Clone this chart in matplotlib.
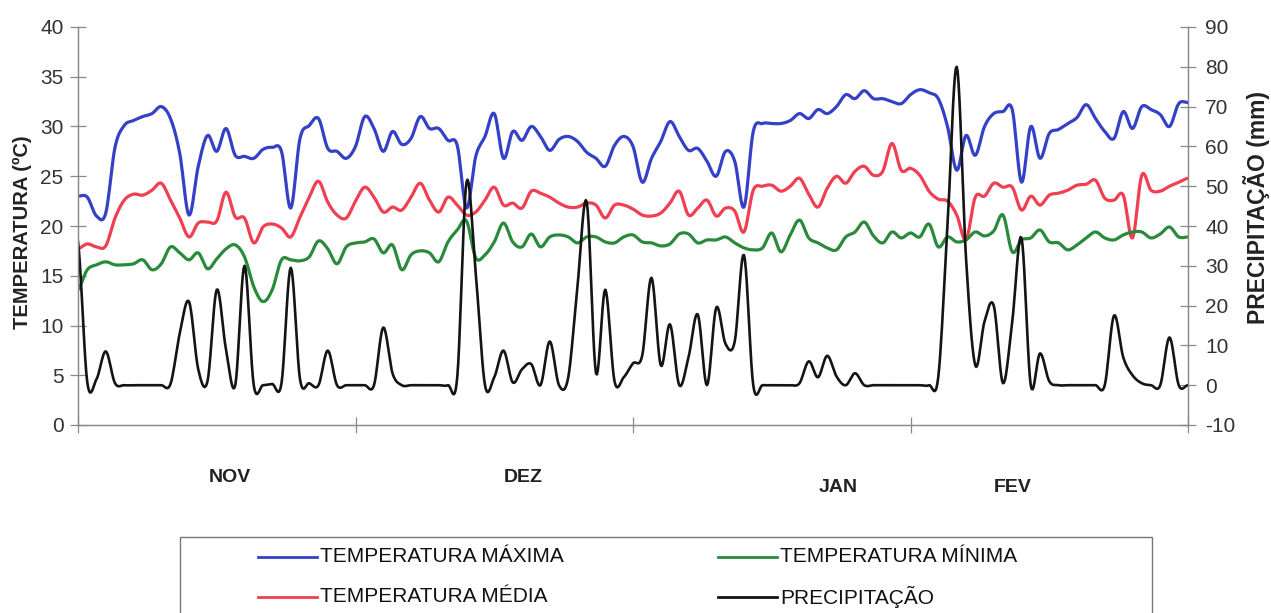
import numpy as np
import matplotlib
matplotlib.use("Agg")
import matplotlib.pyplot as plt
from matplotlib.lines import Line2D
from matplotlib.patches import Rectangle

plt.rcParams["font.family"] = ["Liberation Sans", "DejaVu Sans"]
plt.rcParams["axes.unicode_minus"] = False

# daily series, Nov -> Feb (121 days)
temp_max = [
    23.0, 22.9, 21.0, 21.3, 27.9, 30.1, 30.6, 31.0, 31.3, 32.0,
    30.8, 27.3, 21.1, 26.0, 29.1, 27.5, 29.8, 27.1, 27.0, 26.8,
    27.7, 27.9, 27.5, 21.8, 28.8, 30.1, 30.8, 27.8, 27.5, 26.8,
    28.0, 31.0, 29.8, 27.5, 29.5, 28.2, 28.8, 31.0, 29.8, 29.8,
    28.6, 28.1, 21.8, 27.0, 29.0, 31.3, 26.8, 29.5, 28.6, 30.0,
    29.0, 27.6, 28.7, 29.0, 28.5, 27.4, 26.8, 26.0, 28.1, 29.0,
    28.0, 24.4, 26.8, 28.5, 30.5, 29.0, 27.6, 27.8, 26.5, 25.0,
    27.5, 26.5, 21.9, 29.5, 30.3, 30.3, 30.3, 30.6, 31.3, 30.8,
    31.7, 31.3, 32.0, 33.2, 32.8, 33.6, 32.8, 32.8, 32.5, 32.3,
    33.2, 33.7, 33.4, 32.8, 30.0, 25.6, 29.1, 27.1, 30.0, 31.3,
    31.5, 31.7, 24.4, 30.0, 26.8, 29.3, 29.7, 30.3, 30.9, 32.2,
    30.8, 29.5, 28.8, 31.5, 29.8, 32.0, 31.7, 31.2, 30.0, 32.3,
    32.4,
]
temp_med = [
    17.7, 18.2, 17.9, 18.0, 20.8, 22.6, 23.2, 23.1, 23.6, 24.3,
    22.6, 20.8, 18.9, 20.3, 20.4, 20.5, 23.4, 20.9, 20.8, 18.3,
    19.9, 20.2, 19.8, 18.9, 20.9, 22.9, 24.5, 22.4, 21.1, 20.8,
    22.5, 23.9, 22.9, 21.4, 21.9, 21.6, 22.9, 24.3, 22.6, 21.4,
    22.9, 22.1, 21.1, 21.4, 22.6, 23.9, 22.1, 22.3, 21.8, 23.5,
    23.3, 22.9, 22.3, 21.9, 21.9, 22.3, 22.1, 20.8, 22.1, 22.1,
    21.7, 21.1, 21.0, 21.3, 22.3, 23.5, 21.1, 21.8, 22.6, 21.0,
    21.8, 21.5, 19.4, 23.6, 24.0, 24.1, 23.5, 24.0, 24.8, 23.2,
    21.9, 23.8, 25.0, 24.3, 25.5, 26.0, 25.1, 25.5, 28.3, 25.6,
    25.8, 25.1, 23.5, 22.7, 22.5, 21.1, 18.6, 22.9, 23.0, 24.3,
    23.9, 23.9, 21.6, 23.0, 22.1, 23.1, 23.3, 23.6, 24.1, 24.2,
    24.6, 22.8, 22.6, 23.1, 18.8, 25.1, 23.6, 23.5, 24.0, 24.4,
    24.8,
]
temp_min = [
    13.6, 15.6, 16.1, 16.4, 16.1, 16.1, 16.2, 16.6, 15.6, 16.2,
    17.9, 17.3, 16.6, 17.3, 15.7, 16.7, 17.7, 18.1, 16.9, 13.9,
    12.4, 13.6, 16.6, 16.6, 16.5, 16.9, 18.5, 17.7, 16.2, 17.9,
    18.3, 18.4, 18.7, 17.3, 18.1, 15.6, 17.1, 17.5, 17.3, 16.4,
    18.4, 19.6, 20.5, 16.8, 17.1, 18.4, 20.3, 18.4, 17.9, 19.2,
    17.9, 18.9, 19.1, 18.9, 18.3, 18.9, 18.9, 18.4, 18.3, 18.9,
    19.1, 18.4, 18.3, 18.0, 18.2, 19.2, 19.2, 18.3, 18.6, 18.6,
    18.9, 18.3, 17.8, 17.6, 17.8, 19.3, 17.4, 19.1, 20.6, 18.8,
    18.3, 17.8, 17.6, 18.9, 19.4, 20.4, 19.0, 18.3, 19.4, 18.8,
    19.3, 18.9, 20.2, 17.9, 18.9, 18.4, 18.6, 19.4, 19.0, 19.5,
    21.1, 17.4, 18.6, 18.8, 19.6, 18.4, 18.3, 17.6, 18.1, 18.8,
    19.4, 18.8, 18.6, 19.1, 19.4, 19.4, 18.8, 19.2, 19.9, 18.9,
    18.9,
]
precip = [
    36.0, 0.8, 1.5, 8.5, 0.5, 0.0, 0.0, 0.0, 0.0, 0.0,
    0.3, 13.0, 21.0, 4.0, 1.0, 24.0, 9.0, 0.0, 30.0, 0.0,
    0.0, 0.3, 0.5, 29.5, 1.5, 0.5, 0.0, 8.7, 0.0, 0.0,
    0.0, 0.0, 0.0, 14.5, 3.0, 0.0, 0.0, 0.0, 0.0, 0.0,
    0.0, 2.0, 51.0, 28.0, 0.0, 2.0, 8.7, 0.7, 4.0, 5.3,
    0.0, 11.0, 0.0, 2.0, 25.0, 46.0, 3.0, 24.0, 1.0, 2.0,
    5.5, 7.5, 27.0, 5.0, 15.3, 0.0, 7.0, 17.8, 0.0, 19.5,
    10.4, 11.0, 32.7, 0.0, 0.0, 0.0, 0.0, 0.0, 0.5, 6.0,
    2.0, 7.4, 2.2, 0.0, 3.0, 0.0, 0.0, 0.0, 0.0, 0.0,
    0.0, 0.0, 0.0, 2.0, 40.0, 80.0, 32.0, 5.0, 16.0, 20.0,
    0.5, 16.0, 37.0, 0.0, 8.0, 1.0, 0.0, 0.0, 0.0, 0.0,
    0.0, 0.0, 17.5, 7.0, 2.5, 0.5, 0.0, 0.0, 12.0, 0.0,
    0.0,
]
months = ["NOV", "DEZ", "JAN", "FEV"]
labels = ["TEMPERATURA MÁXIMA", "TEMPERATURA MÉDIA",
          "TEMPERATURA MÍNIMA", "PRECIPITAÇÃO"]

C_MAX, C_MED, C_MIN, C_PREC = "#3441c6", "#ef3f50", "#2a8a3c", "#141414"
AXIS_GRAY = "#8a8a8a"
W, H = 1271, 613


def smooth(y, n=10):
    """Catmull-Rom spline through evenly spaced daily values."""
    y = np.asarray(y, float)
    p = np.concatenate([[y[0]], y, [y[-1]]])
    xs, ys = [], []
    t = np.linspace(0, 1, n, endpoint=False)
    for i in range(len(y) - 1):
        p0, p1, p2, p3 = p[i], p[i + 1], p[i + 2], p[i + 3]
        seg = 0.5 * (2 * p1 + (p2 - p0) * t
                     + (2 * p0 - 5 * p1 + 4 * p2 - p3) * t ** 2
                     + (3 * p1 - p0 - 3 * p2 + p3) * t ** 3)
        xs.append(i + t)
        ys.append(seg)
    xs.append([len(y) - 1])
    ys.append([y[-1]])
    return np.concatenate(xs), np.concatenate(ys)


def fx(px):
    return px / W


def fy(py):
    return 1 - py / H


fig = plt.figure(figsize=(W / 100, H / 100), dpi=100)
ax = fig.add_axes([fx(78), fy(425), fx(1188) - fx(78), fy(27) - fy(425)])
ax2 = ax.twinx()

days = len(temp_max) - 1
for series, color in [(temp_max, C_MAX), (temp_med, C_MED), (temp_min, C_MIN)]:
    xs, ys = smooth(series)
    ax.plot(xs, ys, color=color, lw=2.3, solid_capstyle="round")
xs, ys = smooth(precip)
ax2.plot(xs, ys, color=C_PREC, lw=1.9)

ax.set_xlim(0, days)
ax.set_ylim(0, 40)
ax2.set_ylim(-10, 90)
ax.set_yticks(np.arange(0, 41, 5))
ax2.set_yticks(np.arange(-10, 91, 10))
ax.set_xticks(np.arange(0, days + 1, 30))
ax.set_xticklabels([])

for a in (ax, ax2):
    for s in a.spines.values():
        s.set_color(AXIS_GRAY)
        s.set_linewidth(0.9)
    a.spines["top"].set_visible(False)
ax.tick_params(axis="y", direction="inout", length=11, width=0.9,
               color=AXIS_GRAY, labelsize=15, labelcolor="#333333", pad=5)
ax.tick_params(axis="x", direction="inout", length=11, width=0.9,
               color=AXIS_GRAY)
ax2.tick_params(axis="y", direction="inout", length=11, width=0.9,
                color=AXIS_GRAY, labelsize=15, labelcolor="#333333", pad=7)

fig.text(fx(22), fy(232), "TEMPERATURA (ºC)", rotation=90, ha="center",
         va="center", fontsize=14.5, fontweight="bold", color="#222222")
fig.text(fx(1256), fy(208), "PRECIPITAÇÃO (mm)", rotation=90, ha="center",
         va="center", fontsize=16.5, fontweight="bold", color="#222222")

month_pos = [(230, 478), (523, 478), (838, 487), (1013, 487)]
for name, (px, py) in zip(months, month_pos):
    fig.text(fx(px), fy(py), name, ha="center", va="center", fontsize=14,
             fontweight="bold", color="#222222")

# legend frame runs off the bottom edge
fig.add_artist(Rectangle((fx(180), fy(640)), fx(1152) - fx(180),
                         fy(537) - fy(640), transform=fig.transFigure,
                         fill=False, edgecolor="#777777", lw=1.0))
entries = [(labels[0], C_MAX, 258, 557), (labels[1], C_MED, 258, 597),
           (labels[2], C_MIN, 718, 557), (labels[3], C_PREC, 718, 597)]
for text, color, px, py in entries:
    fig.add_artist(Line2D([fx(px), fx(px + 59)], [fy(py), fy(py)],
                          transform=fig.transFigure, color=color, lw=2.0))
    fig.text(fx(px + 62), fy(py), text, ha="left", va="center",
             fontsize=15, color="#111111")

fig.savefig("out.png", dpi=100)
